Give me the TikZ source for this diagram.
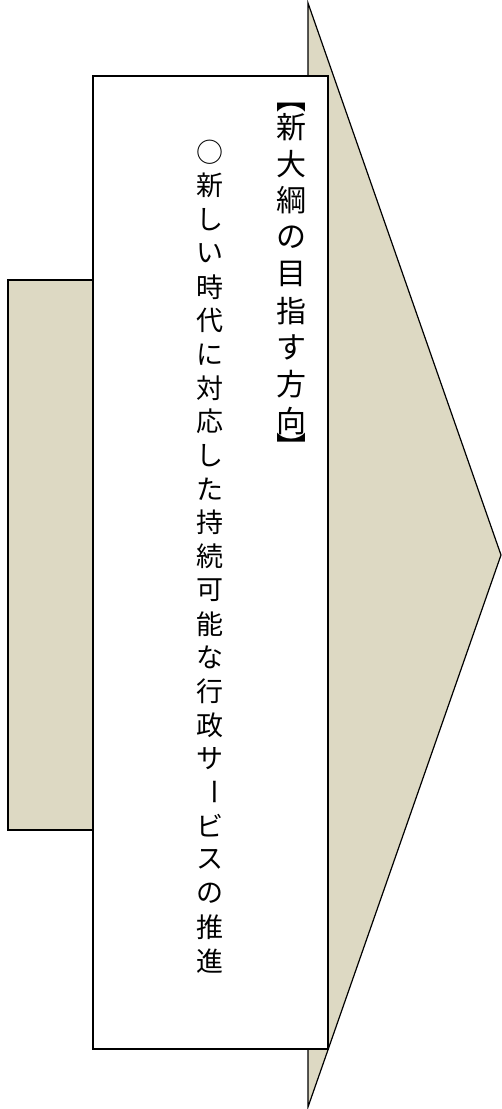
\documentclass[tikz,border=0pt]{standalone}
\usepackage{fontspec}
\newfontfamily\jpfont{Noto Sans CJK JP}
\definecolor{tanfill}{HTML}{DDD9C3}

\begin{document}
\begin{tikzpicture}[
        x=1pt, y=-1pt,
        panel/.style={draw, line width=1.2pt, fill=tanfill, line join=miter},
        card/.style={draw, line width=1.2pt, fill=white},
        headch/.style={font=\jpfont\fontsize{30}{30}\selectfont, inner sep=0pt},
        bodych/.style={font=\jpfont\fontsize{27}{27}\selectfont, inner sep=0pt}
      ]
        \useasboundingbox (0,0) rectangle (502,1109);

        % back panels
        \draw[panel] (8,280) rectangle (93,830);
        \draw[panel] (308,3) -- (501,555) -- (308,1107) -- cycle;

        % front card
        \draw[card] (93,76) rectangle (328,1049);

        % heading column
        \node[headch] (hopen) at (291,108) {︻};
        \foreach \ch [count=\i from 0] in {新,大,綱,の,目,指,す,方,向}
          \node[headch] (h\i) at (291,127+\i*36.75) {\ch};
        \node[headch] (hclose) at (291,446) {︼};

        % body column
        \foreach \ch [count=\i from 0] in {○,新,し,い,時,代,に,対,応,し,た,持,続,可,能,な,行,政,サ,{\rotatebox{-90}{ー}},ビ,ス,の,推,進}
          \node[bodych] (b\i) at (210,152+\i*33.7) {\ch};
    \end{tikzpicture}
\end{document}
